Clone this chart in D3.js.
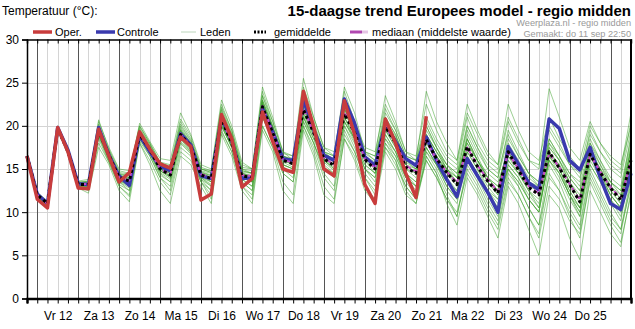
<!DOCTYPE html>
<html><head><meta charset="utf-8">
<script src="https://cdn.jsdelivr.net/npm/d3@7"></script>
<style>body{margin:0;background:#fff}svg{display:block}text{font-family:"Liberation Sans",Arial,sans-serif}</style>
</head><body><svg id="c" width="635" height="329"></svg>
<script>
// ---------- DATA ----------
const dayLabels = ["Vr 12","Za 13","Zo 14","Ma 15","Di 16","Wo 17","Do 18","Vr 19","Za 20","Zo 21","Ma 22","Di 23","Wo 24","Do 25"];
const yTicks = [0,5,10,15,20,25,30];

const oper = [16.5,11.5,10.5,19.8,17.0,12.8,12.7,19.6,16.5,13.5,14.6,19.3,17.3,15.6,15.1,18.7,17.6,11.4,12.1,21.3,18.5,12.9,13.9,21.6,18.2,15.0,14.6,24.0,19.9,15.0,14.2,22.9,19.0,13.2,11.0,20.8,18.0,14.5,11.7,21.1];

const controle = [16.5,12.1,11.0,19.8,17.2,13.3,13.2,19.8,16.6,14.2,13.1,18.9,17.0,15.3,14.8,19.1,17.8,14.2,13.9,20.9,18.3,13.9,14.0,22.0,19.3,16.2,16.0,23.0,19.6,16.6,16.0,23.1,20.3,16.4,15.4,20.1,18.2,16.2,15.4,18.7,16.0,13.8,11.8,16.2,14.2,12.3,10.0,17.6,15.6,13.4,12.6,20.8,19.7,16.0,14.9,17.5,14.0,11.0,10.3,14.5];

const gemiddelde = [16.5,12.0,11.0,19.7,17.0,13.2,13.2,19.4,16.6,14.0,13.6,19.0,17.3,15.0,14.3,19.0,17.6,14.3,13.9,20.7,18.0,14.2,14.0,22.2,19.2,16.0,15.6,21.9,19.2,16.2,15.4,21.4,19.2,16.1,15.0,19.9,18.0,15.2,14.5,18.4,16.2,14.6,13.2,17.6,15.3,13.6,12.2,17.0,14.9,12.9,12.0,17.0,15.1,13.2,11.2,16.7,14.6,12.8,11.4,16.0];

const mediaan = [16.5,12.0,11.0,19.7,17.0,13.2,13.3,19.5,16.6,14.0,13.7,19.1,17.3,15.0,14.4,19.1,17.6,14.4,14.0,20.8,18.1,14.3,14.2,22.3,19.3,16.1,15.7,22.0,19.2,16.3,15.5,21.6,19.3,16.2,15.1,20.0,18.1,15.4,14.7,18.2,16.1,14.7,13.4,17.5,15.4,13.8,12.4,16.9,15.0,13.0,12.2,16.8,15.2,13.3,11.4,16.6,14.7,12.9,11.6,15.9];

const leden = [
[16.5,12.2,11.2,19.9,17.2,13.5,13.6,20.2,17.0,14.5,14.2,20.0,18.0,15.8,15.2,20.5,18.5,15.0,14.6,22.5,19.5,15.5,15.0,24.0,20.5,17.0,16.5,25.5,21.0,17.5,16.5,24.0,20.5,17.0,16.0,22.0,19.5,16.5,16.0,21.0,18.5,16.5,15.5,21.0,18.0,16.0,15.0,20.5,18.0,16.0,15.5,19.5,17.5,15.5,14.5,19.0,17.0,15.5,14.5,20.5],
[16.5,11.8,10.8,19.5,16.8,12.9,12.6,18.5,15.8,13.0,12.0,18.2,16.5,14.0,12.5,17.5,16.5,13.5,12.0,19.5,17.0,13.0,12.0,20.0,17.5,14.5,13.5,20.0,17.5,14.0,12.5,19.0,17.0,14.0,12.0,17.5,16.0,12.5,11.0,16.0,14.0,11.5,9.5,15.0,13.0,10.5,8.5,14.0,12.0,9.5,7.5,14.5,12.5,9.5,7.0,14.0,11.5,9.0,7.5,13.5],
[16.5,12.0,11.1,19.8,17.1,13.3,13.4,19.8,16.8,14.2,13.5,19.5,17.5,15.2,14.6,19.8,18.0,14.5,13.5,21.5,18.5,14.5,14.0,23.0,19.8,16.2,15.5,22.5,19.5,16.0,15.0,21.0,18.5,15.0,13.5,19.0,17.0,14.0,12.5,17.5,15.5,13.5,12.0,18.5,16.0,14.0,12.5,17.0,15.0,12.5,10.5,16.0,14.5,12.0,10.0,17.5,15.0,12.5,11.0,17.0],
[16.5,11.9,10.9,19.6,16.9,13.0,12.9,19.0,16.2,13.8,13.0,18.6,17.0,14.8,14.0,18.5,17.2,14.0,13.5,20.0,17.5,14.0,13.5,21.5,18.8,15.5,15.0,21.0,18.5,16.5,16.0,22.0,19.5,16.5,15.5,20.5,18.5,15.5,15.0,19.0,17.0,15.0,13.5,16.5,14.5,12.5,11.0,15.0,13.5,11.5,10.0,16.5,15.0,12.5,10.5,15.5,13.5,11.5,10.0,15.0],
[16.5,12.1,11.0,19.7,17.0,13.4,13.5,20.7,17.3,14.8,14.5,20.3,18.2,16.2,16.0,21.5,19.0,15.5,15.0,23.0,20.0,15.8,15.0,24.5,21.0,17.0,16.0,23.5,20.0,17.0,16.5,24.5,21.5,17.0,16.5,23.5,20.5,17.0,16.0,24.0,20.5,18.0,16.0,22.5,19.5,17.0,15.5,22.5,19.5,17.0,16.0,21.0,18.5,16.5,15.0,20.0,18.0,16.0,15.0,21.5],
[16.5,11.7,10.6,19.6,16.7,12.8,12.2,17.5,15.5,12.5,11.2,18.0,15.5,12.5,11.0,16.5,15.5,13.0,11.0,19.0,16.5,12.5,11.0,19.5,17.0,12.5,11.0,19.5,16.5,12.0,11.0,18.5,16.0,12.5,11.0,17.0,15.0,12.0,11.0,16.5,14.5,11.0,8.5,14.0,12.0,9.5,7.0,13.0,11.0,8.0,5.0,12.0,10.5,7.0,4.5,12.5,10.0,7.5,6.0,12.5],
[16.5,12.0,11.0,19.7,17.0,13.2,13.0,19.2,16.5,14.0,13.8,19.2,17.5,15.0,14.5,19.5,17.5,14.5,14.0,21.0,18.5,14.8,14.5,22.5,19.5,16.5,16.0,22.0,19.5,16.5,15.5,21.5,19.5,16.5,15.5,20.5,18.5,15.5,14.5,18.5,16.5,14.5,13.0,17.5,15.5,13.5,12.0,16.0,14.5,13.0,12.5,17.5,16.0,13.5,11.5,16.5,14.5,12.5,11.0,16.0],
[16.5,12.3,11.3,20.0,17.5,13.6,13.8,20.5,17.5,15.0,14.8,20.0,18.0,15.8,15.5,20.8,18.8,15.2,14.8,22.0,19.2,15.2,15.0,23.5,20.0,16.5,16.2,23.0,20.0,17.0,16.0,22.5,20.0,17.0,16.5,21.0,19.0,16.0,15.0,20.0,17.5,15.5,14.5,19.5,17.0,15.0,14.0,18.5,16.5,14.5,13.5,18.5,16.5,14.5,13.0,18.0,16.0,14.0,13.0,18.5],
[16.5,11.8,10.7,19.5,16.8,13.0,12.8,18.8,16.0,13.5,12.5,18.5,16.8,14.5,13.5,18.0,16.8,13.8,12.5,20.5,17.8,13.5,12.5,21.0,18.5,15.0,14.0,20.5,18.0,15.0,14.0,20.0,17.5,14.5,13.0,18.0,16.5,13.5,12.0,17.0,15.0,12.5,11.0,16.0,14.0,11.5,9.5,14.5,13.0,10.5,8.5,15.5,13.5,10.5,8.5,15.0,12.5,10.0,8.0,14.0],
[16.5,12.0,11.0,19.8,17.0,13.3,13.2,19.5,16.8,14.2,14.0,19.0,17.2,15.0,14.2,19.2,17.8,14.8,14.5,21.2,18.8,14.5,14.2,22.8,19.8,16.0,15.5,22.5,19.8,16.8,16.0,21.0,19.0,16.0,15.0,19.5,18.0,15.0,14.0,18.0,16.5,14.5,13.5,18.5,16.0,13.5,12.0,16.5,14.5,12.5,11.0,17.0,15.0,12.0,10.0,17.0,14.5,12.0,10.5,17.5],
[16.5,12.1,11.1,19.9,17.3,13.5,13.4,19.9,17.0,14.3,13.8,19.4,17.6,15.3,14.8,19.6,18.0,14.2,13.5,21.8,19.0,14.0,13.5,22.0,19.0,15.5,15.0,21.5,19.0,16.0,15.5,20.5,18.5,16.0,15.5,21.5,19.5,16.5,16.0,20.0,17.5,15.0,13.5,19.0,16.5,14.0,12.5,18.0,16.0,14.0,13.0,20.0,18.0,15.5,14.0,18.5,16.0,13.5,12.0,19.0],
[16.5,11.9,10.9,19.6,16.9,13.1,13.0,19.0,16.4,13.6,13.2,18.8,17.0,14.8,14.0,18.8,17.3,14.0,13.2,20.2,17.8,14.0,13.5,21.8,19.0,15.8,15.2,21.2,18.8,15.8,14.8,20.5,18.5,15.5,14.5,19.5,17.5,14.5,13.5,17.5,15.5,13.0,11.5,17.0,15.0,12.5,10.5,15.5,14.0,12.0,10.5,16.0,14.5,12.0,9.5,16.5,14.0,11.5,9.5,15.5],
[16.5,12.2,11.2,19.8,17.2,13.4,13.6,20.0,17.2,14.6,14.4,19.8,17.8,15.5,15.0,20.2,18.3,15.0,14.8,22.2,19.5,15.0,14.5,23.5,20.5,16.8,16.5,24.5,21.0,17.5,17.0,23.0,20.5,17.5,17.0,22.5,20.0,17.0,16.5,22.5,19.5,17.0,16.0,21.5,19.0,16.5,15.5,21.0,18.5,16.0,15.0,24.3,21.0,17.5,16.0,20.5,18.0,16.5,15.5,20.0],
[16.5,12.0,11.0,19.7,17.0,13.2,13.1,19.3,16.6,14.0,13.6,19.0,17.4,15.1,14.4,19.0,17.5,14.3,14.0,20.5,17.8,14.2,14.0,22.0,19.2,16.0,15.6,21.8,19.2,16.0,15.2,21.5,19.5,16.5,15.5,20.0,18.0,15.0,14.5,18.5,16.5,14.8,13.5,17.5,15.5,13.5,12.5,16.5,15.0,13.5,12.5,17.0,15.5,13.0,11.0,17.0,15.0,13.0,11.5,16.5],
[16.5,11.8,10.8,19.5,16.7,12.9,12.5,18.0,15.8,13.0,11.8,18.0,16.0,13.5,12.0,17.0,16.0,13.5,11.5,19.3,17.0,13.0,11.5,20.0,17.5,13.5,12.0,20.0,17.0,13.0,11.5,18.5,16.5,13.0,11.5,17.5,15.5,13.0,11.5,16.0,14.0,11.5,10.0,14.5,12.5,10.0,8.0,13.5,12.0,9.5,7.0,13.0,11.5,9.0,7.5,13.5,11.0,8.5,6.5,12.0],
[16.5,12.1,11.0,19.8,17.1,13.3,13.3,19.6,16.9,14.4,14.2,19.6,17.8,15.6,15.4,20.0,18.2,15.0,14.6,21.5,19.0,15.0,14.8,23.0,20.0,16.5,16.0,23.5,20.5,17.0,16.5,22.0,19.5,16.5,15.5,21.0,19.0,16.0,15.5,20.5,18.0,16.0,15.0,20.0,17.5,15.5,14.5,19.0,16.5,14.5,13.5,18.0,16.5,14.5,13.5,19.5,17.0,15.0,14.0,19.5],
[16.5,12.0,11.0,19.6,16.9,13.1,13.0,19.0,16.2,13.6,13.0,18.5,16.8,14.6,13.8,18.2,17.0,13.8,13.0,20.0,17.5,13.8,13.0,21.0,18.5,15.0,14.5,20.5,18.0,15.2,14.5,20.0,18.0,15.0,14.0,18.5,16.5,14.0,13.0,17.0,15.5,13.5,12.5,16.0,14.5,12.5,11.5,15.0,13.5,11.5,10.0,16.5,14.5,12.0,10.5,16.0,14.0,12.0,10.5,15.0],
[16.5,12.2,11.1,19.8,17.1,13.4,13.5,19.7,16.8,14.0,13.4,19.3,17.5,15.0,14.2,19.4,17.8,14.5,14.0,21.0,18.5,14.5,14.0,22.5,19.5,16.0,15.5,22.2,19.5,16.2,15.5,21.8,19.8,16.5,15.5,20.5,18.5,15.5,14.5,19.5,17.5,15.5,14.0,18.5,16.0,14.0,13.0,17.5,15.5,13.5,12.0,18.0,16.0,13.5,11.5,18.0,15.5,13.0,11.5,17.5],
[16.5,11.9,10.9,19.7,16.9,13.1,13.1,19.2,16.5,13.8,13.3,18.8,17.0,14.8,14.2,19.0,17.6,14.3,13.8,20.8,18.2,14.2,13.8,22.0,19.0,15.5,15.0,21.5,19.0,16.0,15.0,21.0,18.5,15.5,14.5,19.5,17.5,14.5,13.5,18.0,16.0,14.0,12.5,17.0,15.0,13.0,11.5,16.0,14.5,12.5,11.5,16.5,15.0,12.5,10.5,16.5,14.5,12.0,10.5,16.0],
[16.5,12.0,11.0,19.8,17.0,13.2,13.4,19.6,16.8,14.2,13.9,19.2,17.5,15.2,14.6,19.5,18.0,14.6,14.2,21.0,18.8,14.6,14.5,22.5,19.8,16.5,16.0,22.5,19.8,16.8,16.0,22.0,19.8,16.8,16.0,20.5,18.8,15.8,15.0,19.0,17.0,15.5,14.5,18.0,16.0,14.5,13.5,17.0,15.0,13.5,13.0,17.5,16.0,14.0,12.5,17.5,15.5,13.5,12.5,17.0],
[16.5,11.8,10.8,19.5,16.8,13.0,12.7,18.8,16.0,13.2,12.5,18.5,16.5,14.0,13.0,18.0,16.8,13.5,12.5,20.0,17.5,13.5,12.5,21.0,18.2,14.5,13.5,21.0,18.0,14.5,13.0,19.5,17.0,14.0,12.5,18.0,16.0,13.0,11.5,16.5,14.5,12.0,9.5,15.5,13.5,11.0,9.0,15.0,13.0,10.5,8.5,14.0,12.5,10.0,8.0,14.5,12.0,9.5,8.0,13.0],
[16.5,12.1,11.1,19.8,17.1,13.3,13.3,19.8,17.0,14.4,14.0,19.3,17.5,15.3,14.6,19.3,17.8,14.7,14.3,21.2,18.8,14.8,14.5,22.8,19.8,16.3,15.8,22.0,19.5,16.5,15.8,21.5,19.5,16.5,15.8,20.0,18.0,15.5,14.5,18.5,16.5,15.0,14.0,18.0,16.0,14.0,13.0,17.0,15.5,13.5,12.5,17.0,15.5,13.5,12.0,16.5,14.5,13.0,12.0,17.5],
[16.5,12.0,11.0,19.6,16.9,13.1,12.9,19.0,16.3,13.5,12.8,18.8,16.8,14.3,13.5,18.5,17.0,14.0,13.0,20.3,17.8,13.8,13.0,21.5,18.8,15.3,14.5,21.0,18.5,15.5,14.5,20.5,18.2,15.0,14.0,19.0,17.0,14.0,13.0,17.5,15.5,13.0,11.5,16.5,14.5,12.0,10.5,15.5,14.0,11.5,10.0,16.0,14.0,11.5,9.5,15.5,13.5,11.0,9.0,15.5],
[16.5,12.1,11.0,19.7,17.0,13.3,13.2,19.4,16.6,14.0,13.6,19.1,17.4,15.1,14.5,19.3,17.7,14.6,14.2,21.0,18.3,14.5,14.2,22.6,19.5,16.2,15.8,22.8,19.8,16.8,16.2,22.5,19.8,16.0,14.5,18.5,17.0,14.5,13.0,19.0,17.0,15.0,14.0,20.0,17.5,15.0,14.0,19.5,17.0,14.5,13.0,18.5,16.5,14.0,12.5,17.0,15.0,13.5,12.5,18.0]
];

// ---------- LAYOUT ----------
const svg = d3.select("#c");
const L = 27, R = 631, T = 39.5, B = 298.5;
const t0 = Date.UTC(2025, 8, 11, 18);
const STEP = 6 * 3600 * 1000;
const nT = controle.length;
const times = d3.range(nT).map(i => new Date(t0 + i * STEP));
const x = d3.scaleUtc().domain([times[0], times[nT - 1]]).range([L, R]);
const y = d3.scaleLinear().domain([0, 30]).range([B, T]);

const midnights = times.filter(d => d.getUTCHours() === 0);
const noons = times.filter(d => d.getUTCHours() === 12).slice(0, dayLabels.length);

// grid
const grid = svg.append("g");
grid.selectAll(".hg").data(yTicks.filter(v => v > 0 && v < 30)).join("line")
  .attr("x1", L).attr("x2", R).attr("y1", d => Math.round(y(d)) + 0.5).attr("y2", d => Math.round(y(d)) + 0.5)
  .attr("stroke", "#d4d4d4").attr("stroke-width", 1);
grid.selectAll(".vg").data(times.filter(d => d.getUTCHours() !== 0)).join("line")
  .attr("x1", d => Math.round(x(d)) + 0.5).attr("x2", d => Math.round(x(d)) + 0.5)
  .attr("y1", T).attr("y2", B).attr("stroke", "#d4d4d4").attr("stroke-width", 1);
grid.selectAll(".vd").data(midnights).join("line")
  .attr("x1", d => Math.round(x(d)) + 0.5).attr("x2", d => Math.round(x(d)) + 0.5)
  .attr("y1", T).attr("y2", B).attr("stroke", "#555").attr("stroke-width", 1);

// lines
const line = d3.line().x((d, i) => x(times[i])).y(d => y(d));
const lg = svg.append("g").attr("fill", "none").attr("stroke-linejoin", "round");
lg.selectAll(".m").data(leden).join("path")
  .attr("d", line).attr("stroke", "#3aa028").attr("stroke-opacity", 0.5).attr("stroke-width", 1);
lg.append("path").attr("d", line(controle)).attr("stroke", "#3a3aae").attr("stroke-width", 3.5);
lg.append("path").attr("d", line(mediaan)).attr("stroke", "#c848c8").attr("stroke-width", 2).attr("stroke-dasharray", "5,3");
lg.append("path").attr("d", line(gemiddelde)).attr("stroke", "#000").attr("stroke-width", 3).attr("stroke-dasharray", "3,3");
lg.append("path").attr("d", line(oper)).attr("stroke", "#c83c3c").attr("stroke-width", 3.5);

// axes
const ax = svg.append("g");
const axLeft = ax.append("g").attr("transform", `translate(${L},0)`)
  .call(d3.axisLeft(y).tickValues(yTicks).tickSize(5).tickPadding(3));
axLeft.select(".domain").attr("stroke-width", 1.5);
axLeft.selectAll("text").attr("font-size", 12).attr("fill", "#000").attr("font-family", "Liberation Sans, Arial, sans-serif");

const axBottom = ax.append("g").attr("transform", `translate(0,${B})`)
  .call(d3.axisBottom(x).tickValues(times).tickSize(5).tickFormat(""));
axBottom.select(".domain").attr("stroke-width", 2.5);
const axLab = ax.append("g").attr("transform", `translate(0,${B})`)
  .call(d3.axisBottom(x).tickValues(noons).tickSize(0).tickPadding(13).tickFormat((d, i) => dayLabels[i]));
axLab.select(".domain").remove();
axLab.selectAll("text").attr("font-size", 12).attr("fill", "#000").attr("font-family", "Liberation Sans, Arial, sans-serif");

const axTop = ax.append("g").attr("transform", `translate(0,${T})`)
  .call(d3.axisTop(x).tickValues(times).tickSize(-4).tickFormat(""));
axTop.select(".domain").attr("stroke-width", 1.5);
ax.append("line").attr("x1", R).attr("x2", R).attr("y1", T).attr("y2", B + 1).attr("stroke", "#000").attr("stroke-width", 2);

// titles
svg.append("text").attr("x", 2).attr("y", 15).attr("font-size", 12).text("Temperatuur (°C):");
svg.append("text").attr("x", 631).attr("y", 16).attr("text-anchor", "end")
  .attr("font-size", 15).attr("font-weight", "bold").text("15-daagse trend Europees model - regio midden");
svg.append("text").attr("x", 631).attr("y", 26).attr("text-anchor", "end")
  .attr("font-size", 9.2).attr("fill", "#999").text("Weerplaza.nl - regio midden");
svg.append("text").attr("x", 631).attr("y", 37).attr("text-anchor", "end")
  .attr("font-size", 9.2).attr("fill", "#999").text("Gemaakt: do 11 sep 22:50");

// legend
const leg = svg.append("g").attr("font-size", 11);
const ly = 32;
leg.append("line").attr("x1", 33).attr("x2", 52).attr("y1", ly).attr("y2", ly).attr("stroke", "#c83c3c").attr("stroke-width", 3.5);
leg.append("text").attr("x", 55).attr("y", ly + 4).text("Oper.");
leg.append("line").attr("x1", 96).attr("x2", 115).attr("y1", ly).attr("y2", ly).attr("stroke", "#3a3aae").attr("stroke-width", 3.5);
leg.append("text").attr("x", 117).attr("y", ly + 4).text("Controle");
leg.append("line").attr("x1", 181).attr("x2", 196).attr("y1", ly).attr("y2", ly).attr("stroke", "#bcd6bc").attr("stroke-width", 1);
leg.append("text").attr("x", 200).attr("y", ly + 4).text("Leden");
leg.append("line").attr("x1", 254).attr("x2", 266).attr("y1", ly).attr("y2", ly).attr("stroke", "#000").attr("stroke-width", 3).attr("stroke-dasharray", "2,1.5");
leg.append("text").attr("x", 274).attr("y", ly + 4).text("gemiddelde");
leg.append("line").attr("x1", 350).attr("x2", 362).attr("y1", ly).attr("y2", ly).attr("stroke", "#b048b0").attr("stroke-width", 3);
leg.append("line").attr("x1", 362).attr("x2", 368).attr("y1", ly).attr("y2", ly).attr("stroke", "#e4c4e4").attr("stroke-width", 3);
leg.append("text").attr("x", 372).attr("y", ly + 4).text("mediaan (middelste waarde)");
</script></body></html>
